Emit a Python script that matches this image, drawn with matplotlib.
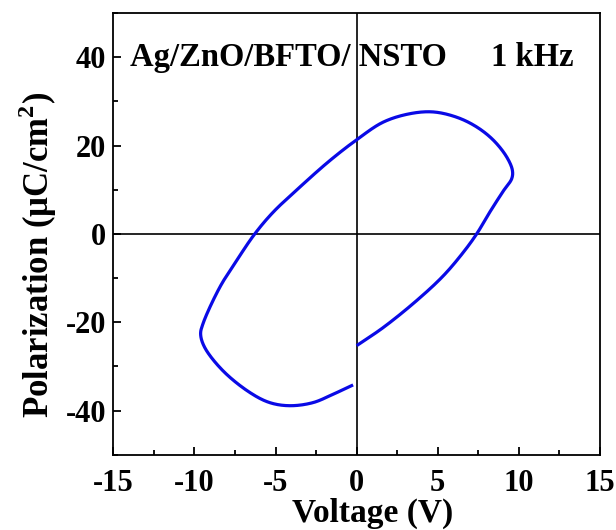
import matplotlib
matplotlib.use("Agg")
import matplotlib.pyplot as plt
from matplotlib.ticker import MultipleLocator
import numpy as np

voltage = [0.0, 1.64, 3.70, 5.34, 6.57, 7.40, 8.22, 9.04, 9.56, 9.60, 9.25, 8.43, 7.40, 6.17,
           4.72, 3.28, 1.64, 0.0, -1.65, -3.50, -5.15, -6.28, -7.41, -8.44, -9.48, -9.62,
           -9.37, -8.24, -6.59, -5.36, -4.12, -2.69, -1.45, -0.22]
polarization = [-25.3, -21.2, -15.1, -9.5, -4.2, 0.0, 5.0, 9.7, 12.5, 14.4, 17.4, 21.2, 24.2,
                26.4, 27.6, 27.2, 25.3, 21.3, 16.6, 10.6, 4.9, 0.0, -6.1, -12.1, -20.4, -22.7,
                -25.7, -31.0, -35.9, -38.2, -38.9, -38.2, -36.3, -34.2]

x_ticks = [-15, -10, -5, 0, 5, 10, 15]
y_ticks = [-40, -20, 0, 20, 40]

plt.rcParams['font.family'] = ['Liberation Serif', 'DejaVu Serif']
plt.rcParams['mathtext.fontset'] = 'custom'
plt.rcParams['mathtext.rm'] = 'Liberation Serif:bold'
plt.rcParams['mathtext.bf'] = 'Liberation Serif:bold'

fig = plt.figure(figsize=(6.16, 5.30), dpi=100)
ax = fig.add_axes([0.184, 0.142, 0.79, 0.8335])


def centripetal_cr(xs, ys, n_per=30, alpha=0.5, sy=0.272):
    """Centripetal Catmull-Rom through the read points (y scaled to screen aspect)."""
    P = np.column_stack([xs, np.array(ys) * sy])
    P = np.vstack([2 * P[0] - P[1], P, 2 * P[-1] - P[-2]])
    out = []
    for i in range(1, len(P) - 2):
        p0, p1, p2, p3 = P[i - 1], P[i], P[i + 1], P[i + 2]
        t0 = 0.0
        t1 = t0 + np.linalg.norm(p1 - p0) ** alpha
        t2 = t1 + np.linalg.norm(p2 - p1) ** alpha
        t3 = t2 + np.linalg.norm(p3 - p2) ** alpha
        t = np.linspace(t1, t2, n_per, endpoint=False)[:, None]
        a1 = (t1 - t) / (t1 - t0) * p0 + (t - t0) / (t1 - t0) * p1
        a2 = (t2 - t) / (t2 - t1) * p1 + (t - t1) / (t2 - t1) * p2
        a3 = (t3 - t) / (t3 - t2) * p2 + (t - t2) / (t3 - t2) * p3
        b1 = (t2 - t) / (t2 - t0) * a1 + (t - t0) / (t2 - t0) * a2
        b2 = (t3 - t) / (t3 - t1) * a2 + (t - t1) / (t3 - t1) * a3
        c = (t2 - t) / (t2 - t1) * b1 + (t - t1) / (t2 - t1) * b2
        out.append(c)
    out.append(P[-2][None, :])
    C = np.vstack(out)
    return C[:, 0], C[:, 1] / sy


cx, cy = centripetal_cr(voltage, polarization)
ax.plot(cx, cy, color='#0a0ae6', lw=2.3, solid_capstyle='butt', zorder=3)

ax.axhline(0, color='black', lw=1.2, zorder=1)
ax.axvline(0, color='black', lw=1.2, zorder=1)

ax.set_xlim(-15, 15)
ax.set_ylim(-50, 50)
ax.set_xticks(x_ticks)
ax.set_yticks(y_ticks)
ax.set_xticklabels([str(v) for v in x_ticks])
ax.set_yticklabels([str(v) for v in y_ticks])
ax.xaxis.set_minor_locator(MultipleLocator(2.5))
ax.yaxis.set_minor_locator(MultipleLocator(10))
ax.tick_params(which='both', direction='in', top=False, right=False, width=1.3)
ax.tick_params(which='major', length=6, labelsize=22)
ax.tick_params(axis='x', which='major', pad=10)
ax.tick_params(axis='y', which='major', pad=5)
ax.tick_params(which='minor', length=3.5)
for lab in ax.get_xticklabels() + ax.get_yticklabels():
    lab.set_fontweight('bold')
for sp in ax.spines.values():
    sp.set_linewidth(1.3)

ax.set_xlabel('Voltage (V)', fontsize=24, fontweight='bold')
ax.set_ylabel(r'Polarization ($\mathbf{\mu}$C/cm$^\mathbf{2}$)', fontsize=25, fontweight='bold')
ax.xaxis.set_label_coords(0.533, -0.098, transform=ax.transAxes)
ax.yaxis.set_label_coords(-0.112, 0.452, transform=ax.transAxes)

ax.text(-14.0, 40, 'Ag/ZnO/BFTO/ NSTO', fontsize=23.5, fontweight='bold', va='center', ha='left')
ax.text(8.3, 40, '1 kHz', fontsize=23.5, fontweight='bold', va='center', ha='left')

fig.savefig('out.png', dpi=100)
